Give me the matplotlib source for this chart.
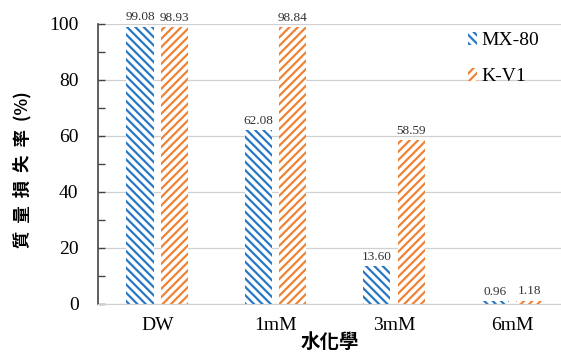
import matplotlib
matplotlib.use("Agg")
import matplotlib.pyplot as plt
import numpy as np

categories = ["DW", "1mM", "3mM", "6mM"]
mx80 = [99.08, 62.08, 13.60, 0.96]
kv1 = [98.93, 98.84, 58.59, 1.18]
series_names = ["MX-80", "K-V1"]
yticks = [0, 20, 40, 60, 80, 100]

blue = "#2a78c4"
orange = "#f08236"

plt.rcParams['hatch.linewidth'] = 1.6
serif = ["Liberation Serif", "DejaVu Serif"]
cjk = ["Noto Sans CJK TC", "DejaVu Sans"]

fig = plt.figure(figsize=(5.61, 3.56), dpi=100)
ax = fig.add_axes([98/561, 1 - 304/356, 1 - 98/561, 280/356])

x = np.arange(len(categories))
w = 0.23
off = 0.145
ax.bar(x - off, mx80, w, color="white", edgecolor=blue, hatch="\\\\\\\\", linewidth=0, label=series_names[0])
ax.bar(x + off, kv1, w, color="white", edgecolor=orange, hatch="////", linewidth=0, label=series_names[1])

for xs, vals in ((x - off, mx80), (x + off, kv1)):
    for xi, v in zip(xs, vals):
        ax.text(xi, v + 1.2, f"{v:.2f}", ha="center", va="bottom", fontsize=9.5,
                family=serif, color="#333333")

ax.set_xlim(-0.5, 3.41)
ax.set_ylim(0, 100)
ax.set_yticks(yticks)
ax.set_yticks(np.arange(0, 101, 10), minor=True)
ax.set_yticklabels([str(t) for t in yticks], family=serif, fontsize=14)
ax.set_xticks(x)
ax.set_xticklabels(categories, family=serif, fontsize=14)
ax.tick_params(axis="x", length=0, pad=9)
ax.tick_params(axis="y", which="both", direction="in", length=5, width=1, color="#444444", pad=14)
ax.yaxis.grid(True, color="#d0d0d0", linewidth=0.9)
ax.set_axisbelow(True)
for s in ["top", "right"]:
    ax.spines[s].set_visible(False)
ax.spines["left"].set_color("#444444")
ax.spines["left"].set_linewidth(1.2)
ax.spines["bottom"].set_color("#d0d0d0")

ax.set_ylabel("質  量  損  失  率  (%)", family=cjk, fontsize=12.5, fontweight="bold",
              va="center")
ax.yaxis.set_label_coords(-0.164, 0.48)
ax.set_xlabel("水化學", family=cjk, fontsize=14, fontweight="bold", va="center")
ax.xaxis.set_label_coords(0.5, -0.139)

ax.legend(loc="upper right", bbox_to_anchor=(0.99, 1.035), frameon=False,
          prop={"family": serif, "size": 14}, handlelength=0.5, handleheight=0.7,
          handletextpad=0.2, labelspacing=0.95)

fig.savefig("out.png", dpi=100)
